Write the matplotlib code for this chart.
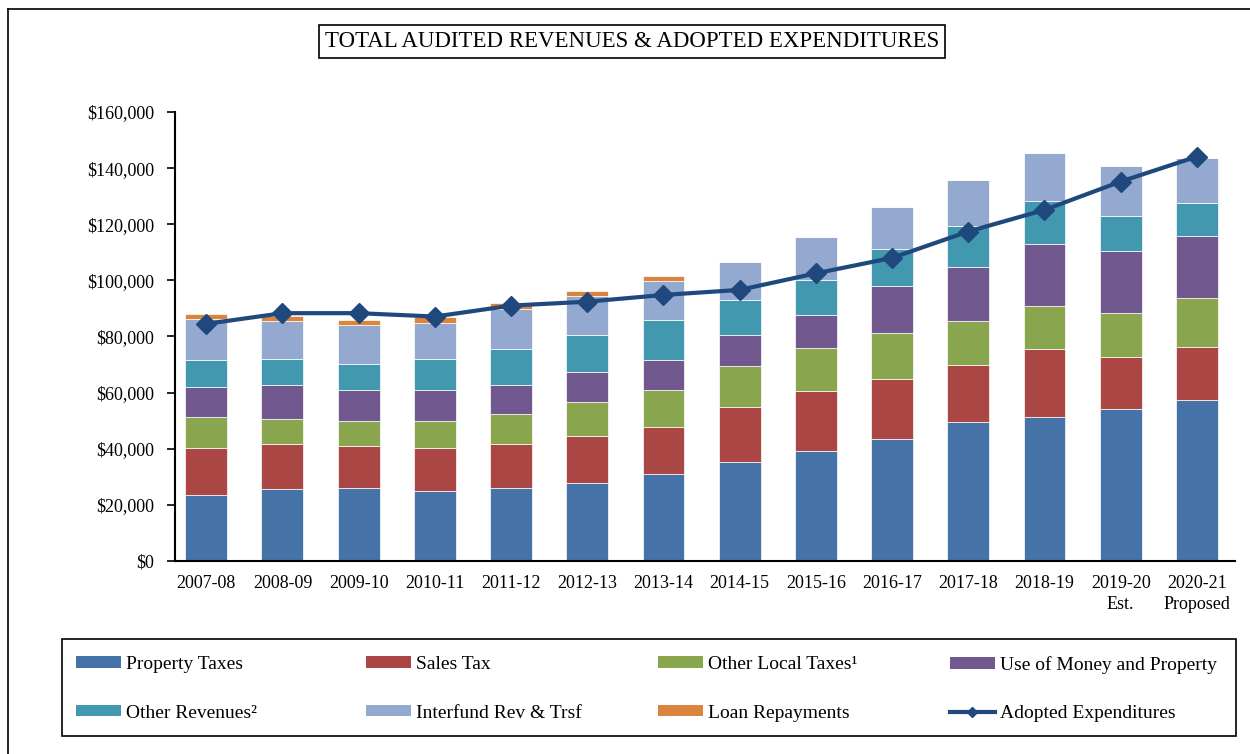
import numpy as np
import matplotlib.pyplot as plt
from matplotlib.lines import Line2D
from matplotlib.patches import Patch, Rectangle

plt.rcParams.update({"font.family": "Liberation Serif", "font.size": 13})

years = ["2007-08", "2008-09", "2009-10", "2010-11", "2011-12", "2012-13", "2013-14",
         "2014-15", "2015-16", "2016-17", "2017-18", "2018-19", "2019-20\nEst.", "2020-21\nProposed"]

# values in $ thousands
property_taxes = [23.5, 25.5, 26.1, 24.8, 26.1, 27.9, 30.9, 35.2, 39.2, 43.4, 49.4, 51.2, 54.2, 57.3]
sales_tax = [16.9, 16.1, 15.0, 15.6, 15.5, 16.8, 16.7, 19.6, 21.5, 21.6, 20.3, 24.5, 18.6, 19.1]
other_local = [10.9, 9.0, 8.9, 9.6, 10.8, 12.0, 13.2, 14.5, 15.1, 16.3, 15.7, 15.2, 15.6, 17.4]
money_property = [10.7, 12.0, 10.8, 10.8, 10.2, 10.8, 10.8, 11.4, 12.0, 16.6, 19.2, 22.1, 22.2, 22.1]
other_rev = [9.6, 9.5, 9.5, 11.3, 13.1, 13.2, 14.4, 12.4, 12.5, 13.3, 14.9, 15.1, 12.5, 11.5]
interfund = [14.5, 13.4, 13.9, 12.7, 14.1, 13.9, 13.8, 13.4, 15.2, 15.0, 16.3, 17.3, 17.6, 16.2]
loan_repay = [1.8, 1.8, 1.8, 2.0, 2.1, 1.6, 1.9, 0, 0, 0, 0, 0, 0, 0]
adopted_exp = [84.5, 88.3, 88.3, 87.1, 91.0, 92.4, 94.8, 96.6, 102.5, 108.0, 117.4, 125.1, 135.2, 144.1]

series = [
    ("Property Taxes", property_taxes, "#4572A7"),
    ("Sales Tax", sales_tax, "#AA4643"),
    ("Other Local Taxes\u00b9", other_local, "#89A54E"),
    ("Use of Money and Property", money_property, "#71588F"),
    ("Other Revenues\u00b2", other_rev, "#4198AF"),
    ("Interfund Rev & Trsf", interfund, "#93A9CF"),
    ("Loan Repayments", loan_repay, "#DB843D"),
]
line_color = "#1F497D"

fig = plt.figure(figsize=(12.5, 7.54), dpi=100)
ax = fig.add_axes([0.14, 0.256, 0.848, 0.5955])

x = np.arange(len(years))
bottom = np.zeros(len(years))
handles = []
for name, vals, col in series:
    v = np.array(vals) * 1000
    ax.bar(x, v, 0.55, bottom=bottom, color=col, edgecolor="white", linewidth=0.5)
    bottom += v
    handles.append(Patch(facecolor=col, label=name))

ax.plot(x, np.array(adopted_exp) * 1000, color=line_color, lw=3, marker="D", ms=10, zorder=5)
handles.append(Line2D([0], [0], color=line_color, lw=3, marker="D", ms=5, label="Adopted Expenditures"))

ax.set_ylim(0, 160000)
ax.set_xlim(-0.41, 13.5)
ax.set_yticks(np.arange(0, 160001, 20000))
ax.set_yticklabels([f"${v:,.0f}" for v in np.arange(0, 160001, 20000)])
ax.set_xticks(x)
ax.set_xticklabels(years, linespacing=1.35)
ax.tick_params(axis="x", length=0, pad=10)
ax.tick_params(axis="y", length=6, width=1.2, direction="out", pad=9)
for s in ["top", "right"]:
    ax.spines[s].set_visible(False)
for s in ["left", "bottom"]:
    ax.spines[s].set_linewidth(1.5)

# title in a box
fig.text(0.5055, 0.945, "TOTAL AUDITED REVENUES & ADOPTED EXPENDITURES", ha="center", va="center",
         fontsize=16.5, bbox=dict(boxstyle="square,pad=0.25", fc="white", ec="black", lw=1.2))

# legend: four columns, two rows, inside one frame
fig.add_artist(Rectangle((62 / 1250, 1 - 736 / 754), 1174 / 1250, 97 / 754, transform=fig.transFigure,
                         fill=False, ec="black", lw=1.2))
col_left = [76, 366, 658, 950]
for j, xl in enumerate(col_left):
    pair = [handles[j], handles[j + 4]]
    fig.legend(pair, [h.get_label() for h in pair], loc="upper left",
               bbox_to_anchor=(xl / 1250, 1 - 656 / 754), frameon=False, fontsize=14,
               handlelength=2.3, handleheight=0.55, handletextpad=0.25,
               labelspacing=1.62, borderpad=0, borderaxespad=0)

# outer frame (left and top edges)
fig.add_artist(Line2D([8 / 1250, 8 / 1250], [0, 1 - 9 / 754], color="black", lw=1.2, transform=fig.transFigure))
fig.add_artist(Line2D([8 / 1250, 1], [1 - 9 / 754, 1 - 9 / 754], color="black", lw=1.2, transform=fig.transFigure))

fig.savefig("out.png", dpi=100)
